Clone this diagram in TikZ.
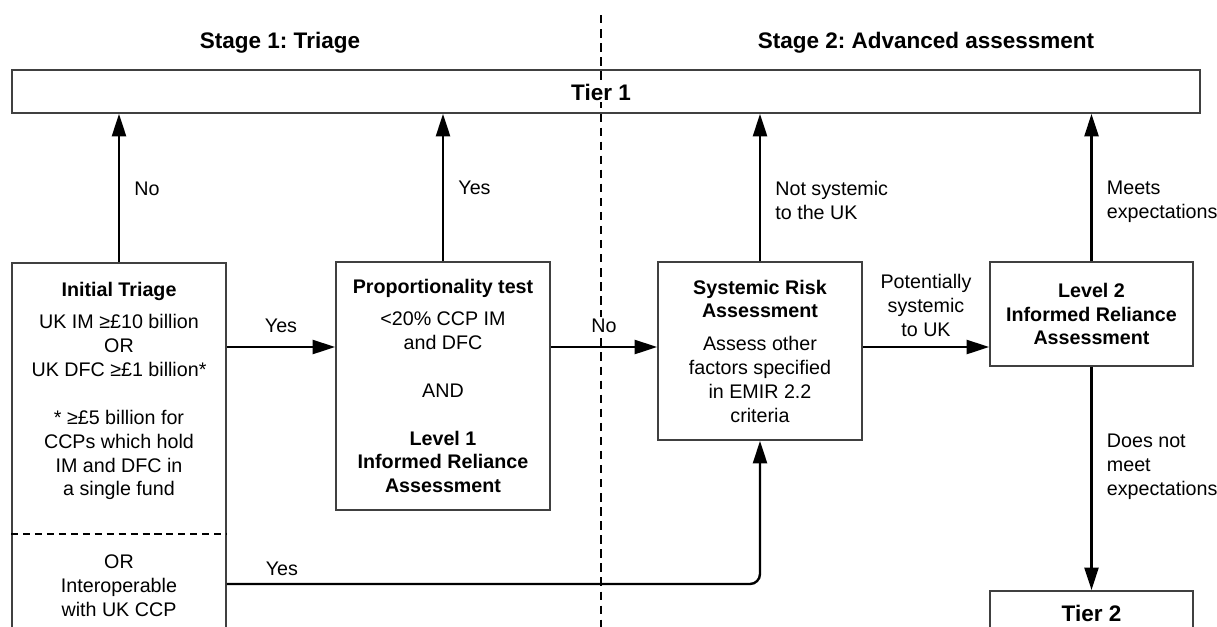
\documentclass[tikz,border=0pt]{standalone}
\usepackage{fontspec}
\setmainfont{Liberation Sans}
\usetikzlibrary{arrows.meta,positioning}
\frenchspacing

\newcommand{\txtsize}{\fontsize{14}{17}\selectfont}
\newcommand{\headsize}{\fontsize{16}{19}\selectfont\bfseries}

\tikzset{
  box/.style={draw=black!75, line width=1.3pt, fill=white, inner sep=2pt, align=center, font=\txtsize},
  arr/.style={-{Triangle[length=16pt,width=10pt]}, line width=1.7pt},
  lab/.style={font=\txtsize, align=left, inner sep=1pt},
}

\begin{document}
\begin{tikzpicture}[x=0.025cm, y=-0.025cm]
\useasboundingbox (0,0) rectangle (1217,626);
\clip (0,0) rectangle (1217,626);
\fill[white] (0,0) rectangle (1217,626);

%%%%% Stages %%%%%
\draw[dash pattern=on 6pt off 4pt, line width=1.5pt] (601,15) -- (601,640);
\node[font=\headsize] (stage1) at (280,43) {Stage 1: Triage};
\node[font=\headsize] (stage2) at (926,43) {Stage 2: Advanced assessment};

%%%%% Tiers %%%%%
\node[box, fill=none, minimum width=29.7cm, minimum height=1.075cm] (tier1) at (606,91.5) {};
\node[font=\headsize, fill=white, inner sep=1pt] (tier1lab) at (601,92) {Tier 1};
\node[box, minimum width=5.075cm, minimum height=1.5cm, anchor=north] (tier2) at (1091.5,590) {};
\node[font=\headsize, inner sep=1pt] (tier2lab) at (1091.5,613) {Tier 2};

%%%%% Boxes %%%%%
\node[box, minimum width=5.35cm, minimum height=10cm, anchor=north] (triage) at (119,262) {};
\node[font=\txtsize, align=center] (triagetxt) at (119,391) {\textbf{Initial Triage}\\[6pt]
  UK IM ≥£10 billion\\OR\\UK DFC ≥£1 billion*\\[\baselineskip]
  * ≥£5 billion for\\CCPs which hold\\IM and DFC in\\a single fund};
\coordinate (sep) at (0,534);
\draw[dash pattern=on 5pt off 3.5pt, line width=1.3pt] (triage.west |- sep) -- (triage.east |- sep);
\node[font=\txtsize, align=center] (interop) at (119,586) {OR\\Interoperable\\with UK CCP};

\node[box, minimum width=5.35cm, minimum height=6.2cm] (prop) at (443,386)
  {\textbf{Proportionality test}\\[6pt]<20\% CCP IM\\and DFC\\[\baselineskip]AND\\[\baselineskip]
   \textbf{Level 1}\\\textbf{Informed Reliance}\\\textbf{Assessment}};
\node[box, minimum width=5.1cm, minimum height=4.45cm] (sra) at (760,351)
  {\textbf{Systemic Risk}\\\textbf{Assessment}\\[6pt]Assess other\\factors specified\\in EMIR 2.2\\criteria};
\node[box, minimum width=5.075cm, minimum height=2.6cm] (lvl2) at (1091.5,314)
  {\textbf{Level 2}\\\textbf{Informed Reliance}\\\textbf{Assessment}};

%%%%% Arrows %%%%%
\coordinate (row) at (0,347);
\coordinate (low) at (0,584);
\foreach \n/\t in {triage/No, prop/Yes, sra/{Not systemic\\to the UK}, lvl2/{Meets\\expectations}}{
\draw[arr] (\n.north) -- node[lab, anchor=north west, pos=0.56, xshift=0.32cm] {\t} (\n.north |- tier1.south);
}
\draw[arr] (triage.east |- row) -- node[lab, above=0.3cm] {Yes} (prop.west |- row);
\draw[arr] (prop.east |- row) -- node[lab, above=0.3cm, fill=white] {No} (sra.west |- row);
\draw[arr] (sra.east |- row) -- node[lab, align=center, above=0.2cm] {Potentially\\systemic\\to UK} (lvl2.west |- row);
\draw[arr] (lvl2.south) -- node[lab, anchor=north west, pos=0.29, xshift=0.32cm] {Does not\\meet\\expectations} (tier2.north);
\draw[arr, rounded corners=0.25cm] (triage.east |- low) -- node[lab, above=0.15cm, pos=0.103] {Yes} (sra.south |- low) -- (sra.south);
\end{tikzpicture}
\end{document}
